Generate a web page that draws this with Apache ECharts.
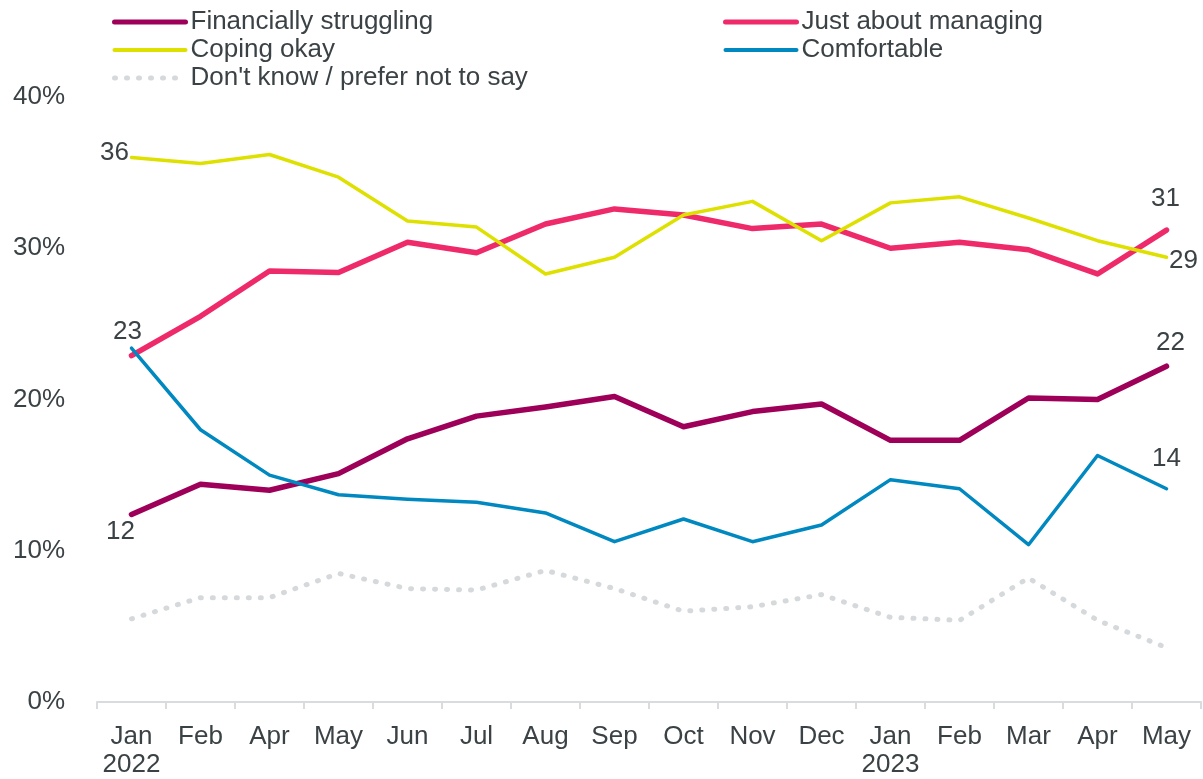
<!DOCTYPE html>
<html>
<head>
<meta charset="utf-8">
<script src="https://cdn.jsdelivr.net/npm/echarts@6/dist/echarts.min.js"></script>
<style>
	html, body { margin: 0; padding: 0; background: #fff; }
	#chart { width: 1203px; height: 779px; }
</style>
</head>
<body>
<div id="chart"></div>
<script>
const months = [ 'Jan\n2022', 'Feb', 'Apr', 'May', 'Jun', 'Jul', 'Aug', 'Sep', 'Oct', 'Nov', 'Dec', 'Jan\n2023', 'Feb', 'Mar', 'Apr', 'May' ];

const struggling = [ 12.4, 14.4, 14.0, 15.1, 17.4, 18.9, 19.5, 20.2, 18.2, 19.2, 19.7, 17.3, 17.3, 20.1, 20.0, 22.2 ];
const managing = [ 22.9, 25.5, 28.5, 28.4, 30.4, 29.7, 31.6, 32.6, 32.2, 31.3, 31.6, 30.0, 30.4, 29.9, 28.3, 31.2 ];
const coping = [ 36.0, 35.6, 36.2, 34.7, 31.8, 31.4, 28.3, 29.4, 32.2, 33.1, 30.5, 33.0, 33.4, 32.0, 30.5, 29.4 ];
const comfortable = [ 23.4, 18.0, 15.0, 13.7, 13.4, 13.2, 12.5, 10.6, 12.1, 10.6, 11.7, 14.7, 14.1, 10.4, 16.3, 14.1 ];
const dontKnow = [ 5.5, 6.9, 6.9, 8.5, 7.5, 7.4, 8.7, 7.5, 6.0, 6.3, 7.1, 5.6, 5.4, 8.2, 5.4, 3.6 ];

const textColor = '#3b4245';
const font = '"Liberation Sans", Arial, sans-serif';
const fontSize = 26;

/**
 * Turns plain values into data items, adding a label on the chosen points.
 *
 * @param {number[]} values
 * @param {Object} labels index -> label options
 * @param {string} color
 * @return {Array}
 */
const withLabels = ( values, labels, color ) => values.map( ( v, i ) => {
	if ( !labels[ i ] ) {
		return v;
	}
	return {
		value: v,
		symbol: 'circle',
		symbolSize: 1,
		itemStyle: { color },
		label: Object.assign( {
			show: true,
			color: textColor,
			fontFamily: font,
			fontSize,
			formatter: ( p ) => Math.round( p.value )
		}, labels[ i ] )
	};
} );

const line = ( name, values, color, width, labels, type ) => ( {
	name,
	type: 'line',
	symbol: 'none',
	showSymbol: true,
	silent: true,
	animation: false,
	color,
	lineStyle: { color, width, type: type || 'solid', cap: 'round', join: 'round' },
	data: withLabels( values, labels, color )
} );

const legendItem = ( name, width ) => ( { name, lineStyle: { width, cap: 'round' } } );

const legendBase = {
	orient: 'vertical',
	itemWidth: 71,
	itemHeight: 24,
	itemGap: 2,
	selectedMode: false,
	itemStyle: { opacity: 0 },
	textStyle: { color: textColor, fontFamily: font, fontSize }
};

const chart = echarts.init( document.getElementById( 'chart' ), null, { renderer: 'canvas' } );

chart.setOption( {
	animation: false,
	legend: [
		Object.assign( {}, legendBase, {
			left: 107,
			top: 4,
			data: [
				legendItem( 'Financially struggling', 5 ),
				legendItem( 'Coping okay', 4 ),
				legendItem( 'Don\'t know / prefer not to say', 5 )
			]
		} ),
		Object.assign( {}, legendBase, {
			left: 718,
			top: 4,
			data: [
				legendItem( 'Just about managing', 5 ),
				legendItem( 'Comfortable', 4 )
			]
		} )
	],
	grid: { left: 97, right: 2, top: 97, bottom: 73, containLabel: false },
	xAxis: {
		type: 'category',
		data: months,
		boundaryGap: true,
		axisLine: { lineStyle: { color: '#d9dcde', width: 2 } },
		axisTick: { show: true, length: 7, lineStyle: { color: '#d9dcde', width: 2 } },
		axisLabel: { color: textColor, fontFamily: font, fontSize, lineHeight: 28, margin: 21, interval: 0 }
	},
	yAxis: {
		type: 'value',
		min: 0,
		max: 40,
		interval: 10,
		axisLine: { show: false },
		axisTick: { show: false },
		splitLine: { show: false },
		axisLabel: { color: textColor, fontFamily: font, fontSize, margin: 32, formatter: '{value}%' }
	},
	series: [
		line( 'Financially struggling', struggling, '#9e0059', 5.5, {
			0: { position: 'bottom', distance: 4, offset: [ -11, 0 ] },
			15: { position: 'top', distance: 10, offset: [ 4, 0 ] }
		} ),
		line( 'Just about managing', managing, '#ee2a6b', 5.5, {
			15: { position: 'top', distance: 18, offset: [ -1, 0 ] }
		} ),
		line( 'Coping okay', coping, '#dee000', 3.5, {
			0: { position: 'left', distance: 2, offset: [ 0, -5 ] },
			15: { position: 'right', distance: 4, offset: [ -2, 4 ] }
		} ),
		line( 'Comfortable', comfortable, '#0088c0', 3.5, {
			0: { position: 'top', distance: 3, offset: [ -4, 0 ] },
			15: { position: 'top', distance: 16 }
		} ),
		line( 'Don\'t know / prefer not to say', dontKnow, '#d6d9db', 5, {}, [ 1, 11 ] )
	]
} );
</script>
</body>
</html>
